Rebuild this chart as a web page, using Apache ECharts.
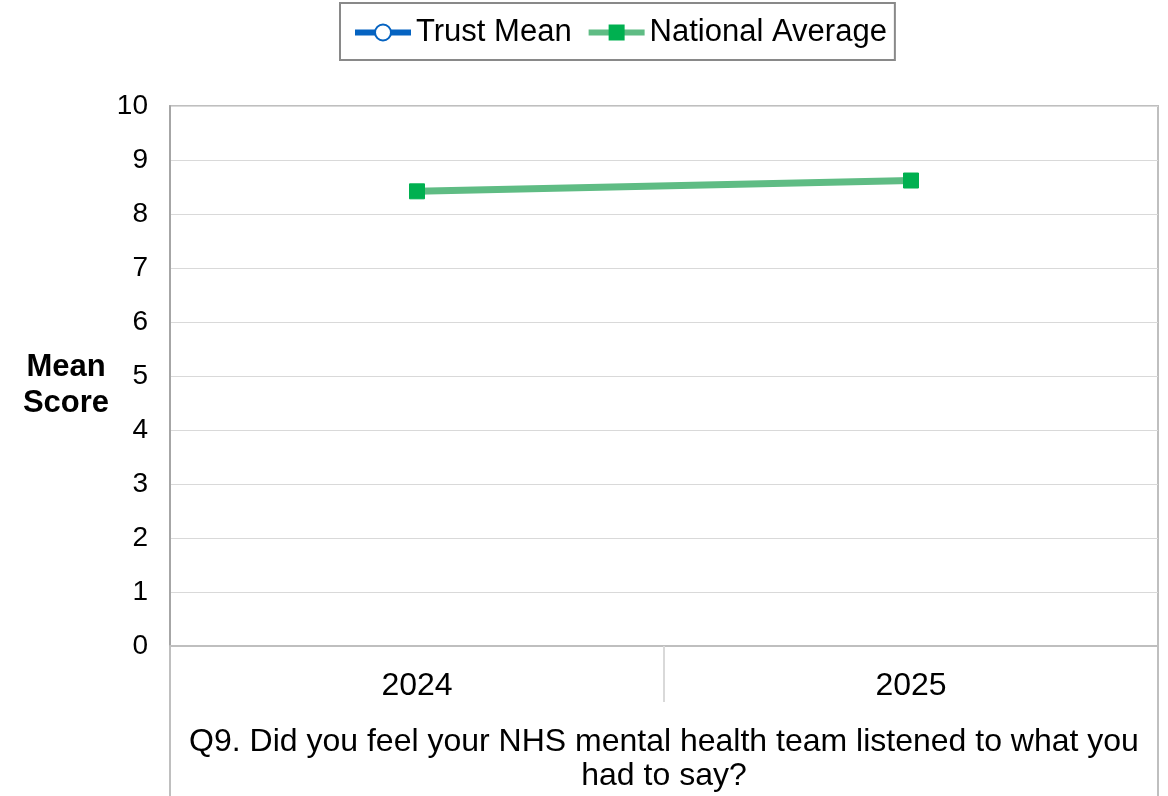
<!DOCTYPE html>
<html>
<head>
<meta charset="utf-8">
<script src="https://cdn.jsdelivr.net/npm/echarts@6/dist/echarts.min.js"></script>
<style>
html,body{margin:0;padding:0;background:#fff;}
#chart{width:1168px;height:796px;}
</style>
</head>
<body>
<div id="chart"></div>
<script>
const categories = ['2024', '2025'];
const trustMean = [null, null];
const nationalAverage = [8.42, 8.62];
const yTicks = [0, 1, 2, 3, 4, 5, 6, 7, 8, 9, 10];
const questionLabel = ['Q9. Did you feel your NHS mental health team listened to what you\nhad to say?'];
const yAxisTitle = 'Mean\nScore';

const FONT = 'Liberation Sans, Arial, sans-serif';
const chart = echarts.init(document.getElementById('chart'));
const gridPos = { left: 170, right: 10, top: 106, bottom: 150 };

chart.setOption({
  animation: false,
  backgroundColor: '#fff',
  textStyle: { fontFamily: FONT },
  legend: {
    top: 3,
    left: 340,
    padding: [14, 8, 12, 12],
    borderColor: '#898989',
    borderWidth: 2,
    itemWidth: 56,
    itemHeight: 20,
    itemGap: 14,
    lineStyle: { width: 6 },
    textStyle: { fontFamily: FONT, fontSize: 31, color: '#000' },
    data: ['Trust Mean', 'National Average']
  },
  graphic: [
    {
      type: 'text',
      x: 66,
      y: 349,
      style: {
        text: yAxisTitle,
        font: 'bold 31px ' + FONT,
        fill: '#000',
        align: 'center',
        verticalAlign: 'top',
        lineHeight: 36
      }
    }
  ],
  grid: [
    Object.assign({ show: true, borderColor: '#bfbfbf', borderWidth: 2, containLabel: false }, gridPos),
    Object.assign({ show: false, containLabel: false }, gridPos)
  ],
  xAxis: [
    {
      type: 'category',
      gridIndex: 0,
      data: categories,
      boundaryGap: true,
      axisLine: { show: true, lineStyle: { color: '#bfbfbf', width: 2 } },
      axisTick: { show: true, length: 56, lineStyle: { color: '#d9d9d9', width: 2 } },
      axisLabel: { fontFamily: FONT, fontSize: 32, color: '#000', margin: 24 },
      splitLine: { show: false }
    },
    {
      type: 'category',
      gridIndex: 1,
      position: 'bottom',
      data: questionLabel,
      boundaryGap: true,
      axisLine: { show: false },
      axisTick: { show: true, length: 150, lineStyle: { color: '#bfbfbf', width: 2 } },
      axisLabel: { fontFamily: FONT, fontSize: 32, color: '#000', margin: 79, lineHeight: 34 },
      splitLine: { show: false }
    }
  ],
  yAxis: [
    {
      type: 'value',
      gridIndex: 0,
      min: yTicks[0],
      max: yTicks[yTicks.length - 1],
      interval: 1,
      axisLine: { show: true, lineStyle: { color: '#a6a6a6', width: 2 } },
      axisTick: { show: false },
      axisLabel: { fontFamily: FONT, fontSize: 28, color: '#000', margin: 22 },
      splitLine: { show: true, lineStyle: { color: '#d9d9d9', width: 1 } }
    },
    {
      type: 'value',
      gridIndex: 1,
      min: 0, max: 10,
      show: false
    }
  ],
  series: [
    {
      name: 'Trust Mean',
      type: 'line',
      xAxisIndex: 0, yAxisIndex: 0,
      data: trustMean,
      symbol: 'circle',
      symbolSize: 16,
      itemStyle: { color: '#fff', borderColor: '#0563c1', borderWidth: 2.5 },
      lineStyle: { color: '#0563c1', width: 7 },
      color: '#0563c1'
    },
    {
      name: 'National Average',
      type: 'line',
      xAxisIndex: 0, yAxisIndex: 0,
      data: nationalAverage,
      symbol: 'rect',
      symbolSize: 15,
      itemStyle: { color: '#00b050', borderColor: '#00b050' },
      lineStyle: { color: '#5fbc84', width: 7 },
      color: '#5fbc84'
    }
  ]
});
</script>
</body>
</html>
